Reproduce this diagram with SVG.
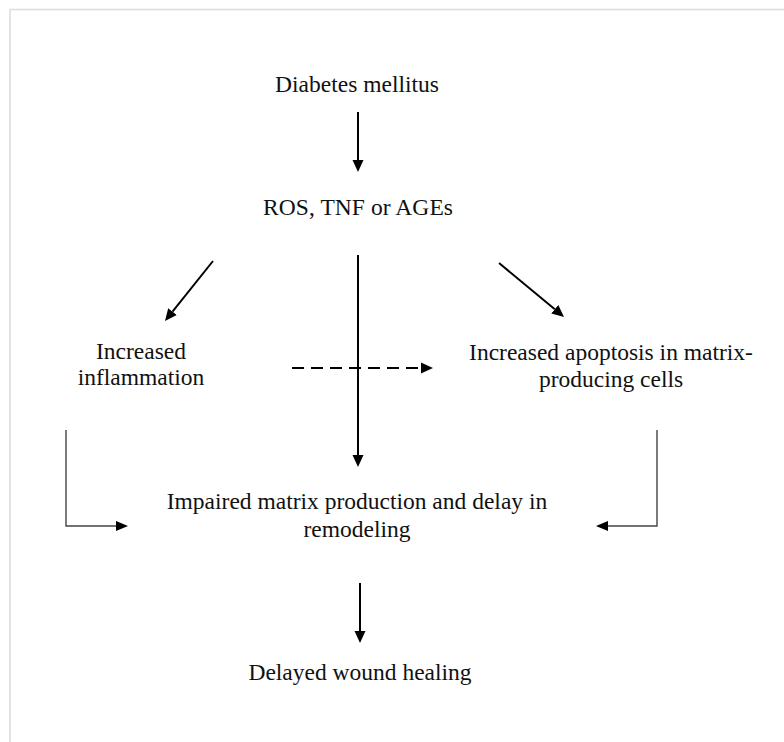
<svg xmlns="http://www.w3.org/2000/svg" width="784" height="742" viewBox="0 0 784 742">
<style>
  text { font-family: "Liberation Serif", "Times New Roman", serif; font-size: 23.5px; fill: #111; text-anchor: middle; }
  .main { stroke: #000; stroke-width: 2; fill: none; }
  .thin { stroke: #444; stroke-width: 1.4; fill: none; }
  .dash { stroke: #000; stroke-width: 2; fill: none; stroke-dasharray: 12 7; }
</style>
<defs>
  <marker id="ah" markerWidth="13" markerHeight="12" viewBox="0 -6 13 12" refX="0" refY="0" orient="auto" markerUnits="userSpaceOnUse">
    <path d="M0,-5.5 L12,0 L0,5.5 z" fill="#000"/>
  </marker>
  <marker id="ahs" markerWidth="13" markerHeight="12" viewBox="0 -6 13 12" refX="0" refY="0" orient="auto" markerUnits="userSpaceOnUse">
    <path d="M0,-5 L12,0 L0,5 z" fill="#000"/>
  </marker>
</defs>
<rect width="784" height="742" fill="#fff"/>
<path d="M10,742 V9.5 H784" stroke="#dcdcdc" stroke-width="1.5" fill="none"/>

<g id="n-diabetes"><text x="357" y="92">Diabetes mellitus</text></g>
<g id="n-ros"><text x="358" y="215" textLength="190" lengthAdjust="spacing">ROS, TNF or AGEs</text></g>
<g id="n-inflammation"><text x="141" y="359">Increased</text><text x="141" y="385">inflammation</text></g>
<g id="n-apoptosis"><text x="611" y="360">Increased apoptosis in matrix-</text><text x="611" y="387">producing cells</text></g>
<g id="n-impaired"><text x="357" y="509">Impaired matrix production and delay in</text><text x="357" y="537">remodeling</text></g>
<g id="n-delayed"><text x="360" y="680">Delayed wound healing</text></g>

<g id="connectors">
  <path class="main" d="M358,112 V160" marker-end="url(#ah)"/>
  <path class="main" d="M358,255 V455" marker-end="url(#ah)"/>
  <path class="main" d="M213,261 L172.5,311.6" marker-end="url(#ah)"/>
  <path class="main" d="M499,263 L554.8,309.3" marker-end="url(#ah)"/>
  <path class="dash" d="M292,368 H421" marker-end="url(#ah)"/>
  <path class="main" d="M360,583 V631" marker-end="url(#ah)"/>
  <path class="thin" d="M66,430 V526 H116" marker-end="url(#ahs)"/>
  <path class="thin" d="M657,430 V526 H608" marker-end="url(#ahs)"/>
</g>
</svg>
